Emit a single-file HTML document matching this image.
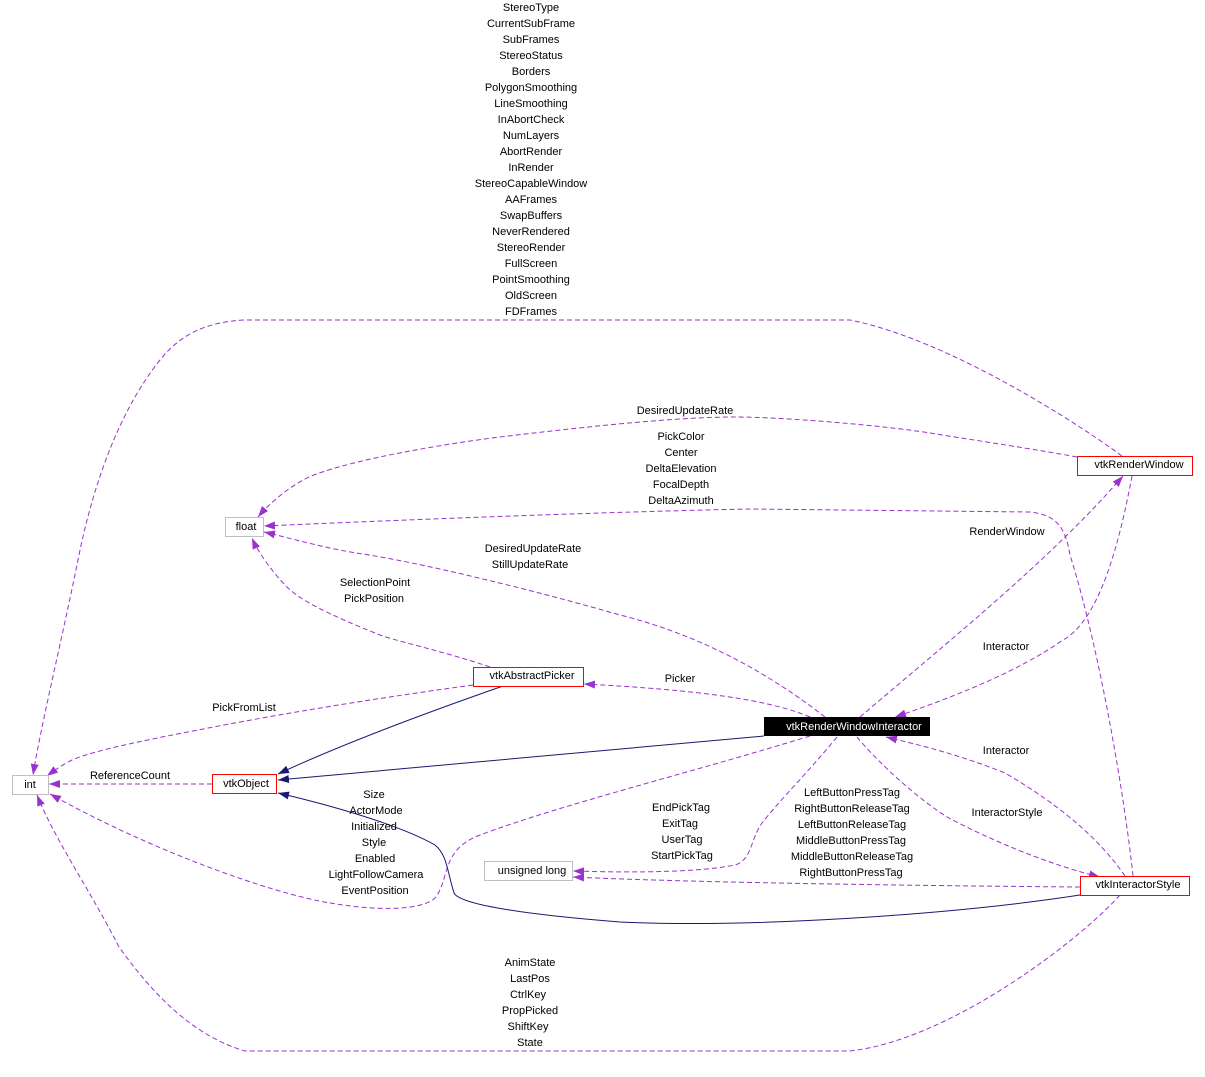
<!DOCTYPE html>
<html><head><meta charset="utf-8"><style>
html,body{margin:0;padding:0;background:#fff;}
svg{display:block;}
text{font-family:"Liberation Sans",Arial,sans-serif;font-size:11px;fill:#000;}
.d{fill:none;stroke:#9a32cd;stroke-width:1;stroke-dasharray:5,3;}
.s{fill:none;stroke:#191970;stroke-width:1;}
</style></head><body>
<svg width="1205" height="1077" viewBox="0 0 1205 1077" xmlns="http://www.w3.org/2000/svg">
<defs>
<marker id="ap" markerUnits="userSpaceOnUse" markerWidth="12" markerHeight="8" refX="11" refY="4" orient="auto"><path d="M0,0 L11,4 L0,8 z" fill="#9a32cd" stroke="none"/></marker>
<marker id="an" markerUnits="userSpaceOnUse" markerWidth="12" markerHeight="8" refX="11" refY="4" orient="auto"><path d="M0,0 L11,4 L0,8 z" fill="#191970" stroke="none"/></marker>
</defs>

<!-- dashed edges -->
<path class="d" marker-end="url(#ap)" d="M1122,456 C1080,425 950,340 850,320 L245,320 C205,322 180,335 160,360 C120,410 95,480 80,550 C62,640 42,720 33,775"/>
<path class="d" marker-end="url(#ap)" d="M1077,457 C1040,450 960,438 930,433 C880,425 780,417 736,417 C680,417 600,425 500,437 C420,447 330,465 303,480 C285,490 268,505 258,517"/>
<path class="d" marker-end="url(#ap)" d="M1133,876 C1125,800 1100,650 1070,555 C1065,525 1055,515 1030,512 L750,509 C600,512 400,520 264,526"/>
<path class="d" marker-end="url(#ap)" d="M825,717 C790,690 720,640 620,615 C540,592 420,562 356,553 C320,547 290,538 264,532"/>
<path class="d" marker-end="url(#ap)" d="M490,667 C440,650 390,640 375,633 C330,615 300,600 288,588 C272,572 258,552 252,538"/>
<path class="d" marker-end="url(#ap)" d="M473,685 C400,695 300,710 198,730 C130,743 90,752 72,760 C62,765 55,770 47,776"/>
<path class="d" marker-end="url(#ap)" d="M212,784 L49,784"/>
<path class="d" marker-end="url(#ap)" d="M810,736 C700,770 560,805 480,835 C440,850 450,880 435,898 C420,912 370,910 330,903 C270,893 150,850 50,794"/>
<path class="d" marker-end="url(#ap)" d="M1120,895 C1080,940 950,1040 850,1051 L245,1051 C190,1035 150,990 119,947 C90,890 55,840 37,795"/>
<path class="d" marker-end="url(#ap)" d="M810,717 C770,700 700,690 584,684"/>
<path class="d" marker-end="url(#ap)" d="M860,717 C950,640 1050,560 1123,476"/>
<path class="d" marker-end="url(#ap)" d="M1132,476 C1120,540 1100,620 1063,640 C1020,670 960,695 895,717"/>
<path class="d" marker-end="url(#ap)" d="M1125,876 C1100,840 1063,807 1005,773 C960,755 920,745 886,737"/>
<path class="d" marker-end="url(#ap)" d="M857,737 C880,765 920,800 947,817 C990,840 1050,865 1100,877"/>
<path class="d" marker-end="url(#ap)" d="M837,737 C810,770 780,800 762,823 C750,840 752,860 735,865 C700,872 640,873 573,871"/>
<path class="d" marker-end="url(#ap)" d="M1080,887 C950,886 700,883 573,877"/>

<!-- solid edges -->
<path class="s" marker-end="url(#an)" d="M503,686 C420,715 340,745 278,774"/>
<path class="s" marker-end="url(#an)" d="M764,736 L278,780"/>
<path class="s" marker-end="url(#an)" d="M1080,895 C950,915 750,928 620,922 C530,915 460,905 454,893 C447,870 447,855 435,845 C400,825 330,805 278,793"/>

<!-- nodes -->
<rect x="12.5" y="775.5" width="36" height="19" fill="#fff" stroke="#bfbfbf"/>
<text x="30" y="788" text-anchor="middle">int</text>
<rect x="225.5" y="517.5" width="38" height="19" fill="#fff" stroke="#bfbfbf"/>
<text x="246" y="530" text-anchor="middle">float</text>
<rect x="484.5" y="861.5" width="88" height="19" fill="#fff" stroke="#bfbfbf"/>
<text x="532" y="874" text-anchor="middle">unsigned long</text>
<rect x="212.5" y="774.5" width="64" height="19" fill="#fff" stroke="#ff0000"/>
<text x="246" y="787" text-anchor="middle">vtkObject</text>
<rect x="473.5" y="667.5" width="110" height="19" fill="#fff" stroke="#ff0000"/>
<text x="532" y="679" text-anchor="middle">vtkAbstractPicker</text>
<rect x="1077.5" y="456.5" width="115" height="19" fill="#fff" stroke="#ff0000"/>
<text x="1139" y="468" text-anchor="middle">vtkRenderWindow</text>
<rect x="1080.5" y="876.5" width="109" height="19" fill="#fff" stroke="#ff0000"/>
<text x="1138" y="888" text-anchor="middle">vtkInteractorStyle</text>
<rect x="764" y="717" width="166" height="19" fill="#000"/>
<text x="854" y="730" text-anchor="middle" style="fill:#fff">vtkRenderWindowInteractor</text>

<!-- edge labels -->
<g text-anchor="middle">
<text x="531" y="11">StereoType</text>
<text x="531" y="27">CurrentSubFrame</text>
<text x="531" y="43">SubFrames</text>
<text x="531" y="59">StereoStatus</text>
<text x="531" y="75">Borders</text>
<text x="531" y="91">PolygonSmoothing</text>
<text x="531" y="107">LineSmoothing</text>
<text x="531" y="123">InAbortCheck</text>
<text x="531" y="139">NumLayers</text>
<text x="531" y="155">AbortRender</text>
<text x="531" y="171">InRender</text>
<text x="531" y="187">StereoCapableWindow</text>
<text x="531" y="203">AAFrames</text>
<text x="531" y="219">SwapBuffers</text>
<text x="531" y="235">NeverRendered</text>
<text x="531" y="251">StereoRender</text>
<text x="531" y="267">FullScreen</text>
<text x="531" y="283">PointSmoothing</text>
<text x="531" y="299">OldScreen</text>
<text x="531" y="315">FDFrames</text>

<text x="685" y="414">DesiredUpdateRate</text>
<text x="681" y="440">PickColor</text>
<text x="681" y="456">Center</text>
<text x="681" y="472">DeltaElevation</text>
<text x="681" y="488">FocalDepth</text>
<text x="681" y="504">DeltaAzimuth</text>

<text x="1007" y="535">RenderWindow</text>
<text x="533" y="552">DesiredUpdateRate</text>
<text x="530" y="568">StillUpdateRate</text>
<text x="375" y="586">SelectionPoint</text>
<text x="374" y="602">PickPosition</text>
<text x="1006" y="650">Interactor</text>
<text x="680" y="682">Picker</text>
<text x="244" y="711">PickFromList</text>
<text x="1006" y="754">Interactor</text>
<text x="130" y="779">ReferenceCount</text>

<text x="374" y="798">Size</text>
<text x="376" y="814">ActorMode</text>
<text x="374" y="830">Initialized</text>
<text x="374" y="846">Style</text>
<text x="375" y="862">Enabled</text>
<text x="376" y="878">LightFollowCamera</text>
<text x="375" y="894">EventPosition</text>

<text x="681" y="811">EndPickTag</text>
<text x="680" y="827">ExitTag</text>
<text x="682" y="843">UserTag</text>
<text x="682" y="859">StartPickTag</text>

<text x="852" y="796">LeftButtonPressTag</text>
<text x="852" y="812">RightButtonReleaseTag</text>
<text x="852" y="828">LeftButtonReleaseTag</text>
<text x="851" y="844">MiddleButtonPressTag</text>
<text x="852" y="860">MiddleButtonReleaseTag</text>
<text x="851" y="876">RightButtonPressTag</text>

<text x="1007" y="816">InteractorStyle</text>

<text x="530" y="966">AnimState</text>
<text x="530" y="982">LastPos</text>
<text x="528" y="998">CtrlKey</text>
<text x="530" y="1014">PropPicked</text>
<text x="528" y="1030">ShiftKey</text>
<text x="530" y="1046">State</text>
</g>
</svg>
</body></html>
